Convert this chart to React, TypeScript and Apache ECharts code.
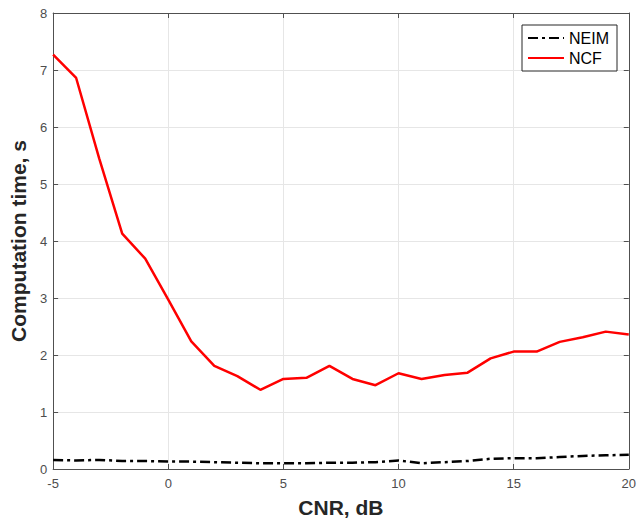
import React, { useEffect, useRef } from "react";
import * as echarts from "echarts";

const cnr = [-5, -4, -3, -2, -1, 0, 1, 2, 3, 4, 5, 6, 7, 8, 9, 10, 11, 12, 13, 14, 15, 16, 17, 18, 19, 20];
const neim = [0.16, 0.15, 0.16, 0.14, 0.14, 0.13, 0.13, 0.12, 0.11, 0.1, 0.1, 0.1, 0.11, 0.11, 0.12, 0.15, 0.1, 0.12, 0.14, 0.18, 0.19, 0.19, 0.21, 0.23, 0.24, 0.25];
const ncf = [7.27, 6.86, 5.45, 4.13, 3.69, 2.97, 2.24, 1.81, 1.63, 1.39, 1.58, 1.6, 1.81, 1.58, 1.47, 1.68, 1.58, 1.65, 1.69, 1.94, 2.06, 2.06, 2.23, 2.31, 2.41, 2.36];
const xTicks = [-5, 0, 5, 10, 15, 20];
const yTicks = [0, 1, 2, 3, 4, 5, 6, 7, 8];

export default function App() {
  const ref = useRef<HTMLDivElement>(null);
  useEffect(() => {
    document.body.style.margin = "0";
    const chart = echarts.init(ref.current!, null, { renderer: "svg" });
    const font = "Helvetica, Arial, 'Liberation Sans', sans-serif";
    const axisLine = { show: true, onZero: false, lineStyle: { color: "#505050", width: 1 } };
    const tick = { show: true, inside: true, length: 5, lineStyle: { color: "#505050" } };
    chart.setOption({
      animation: false,
      backgroundColor: "#fff",
      grid: { left: 50, right: 9, top: 13, bottom: 53, containLabel: false },
      legend: {
        orient: "vertical",
        right: 22,
        top: 25,
        backgroundColor: "#fff",
        borderColor: "#262626",
        borderWidth: 1,
        borderRadius: 0,
        padding: [5, 8, 5, 5],
        itemGap: 4,
        itemWidth: 36,
        itemHeight: 10,
        itemStyle: { opacity: 0 },
        textStyle: { fontFamily: font, fontSize: 16, color: "#000" },
        data: ["NEIM", "NCF"],
      },
      xAxis: [
        {
          type: "value",
          min: -5,
          max: 20,
          interval: 5,
          position: "bottom",
          name: "CNR, dB",
          nameLocation: "middle",
          nameGap: 28,
          nameTextStyle: { fontFamily: font, fontSize: 21, fontWeight: "bold", color: "#262626" },
          axisLine,
          axisTick: tick,
          axisLabel: { fontFamily: font, fontSize: 13, color: "#4d4d4d", margin: 8, formatter: (v: number) => (xTicks.includes(v) ? String(v) : "") },
          splitLine: { show: true, lineStyle: { color: "#e6e6e6", width: 1 } },
        },
        {
          type: "value",
          min: -5,
          max: 20,
          interval: 5,
          position: "top",
          axisLine,
          axisTick: tick,
          axisLabel: { show: false },
          splitLine: { show: false },
        },
      ],
      yAxis: [
        {
          type: "value",
          min: 0,
          max: 8,
          interval: 1,
          position: "left",
          name: "Computation time, s",
          nameLocation: "middle",
          nameGap: 23,
          nameTextStyle: { fontFamily: font, fontSize: 21, fontWeight: "bold", color: "#262626" },
          axisLine,
          axisTick: tick,
          axisLabel: { fontFamily: font, fontSize: 13, color: "#4d4d4d", margin: 6, formatter: (v: number) => (yTicks.includes(v) ? String(v) : "") },
          splitLine: { show: true, lineStyle: { color: "#e6e6e6", width: 1 } },
        },
        {
          type: "value",
          min: 0,
          max: 8,
          interval: 1,
          position: "right",
          axisLine,
          axisTick: tick,
          axisLabel: { show: false },
          splitLine: { show: false },
        },
      ],
      series: [
        {
          name: "NEIM",
          type: "line",
          symbol: "none",
          data: cnr.map((x, i) => [x, neim[i]]),
          lineStyle: { color: "#000", width: 2.5, type: [10, 4, 3, 4] },
          itemStyle: { color: "#000" },
        },
        {
          name: "NCF",
          type: "line",
          symbol: "none",
          data: cnr.map((x, i) => [x, ncf[i]]),
          lineStyle: { color: "#ff0000", width: 2.5 },
          itemStyle: { color: "#ff0000" },
        },
      ],
    });
    return () => chart.dispose();
  }, []);
  return <div ref={ref} style={{ width: 639, height: 523 }} />;
}
